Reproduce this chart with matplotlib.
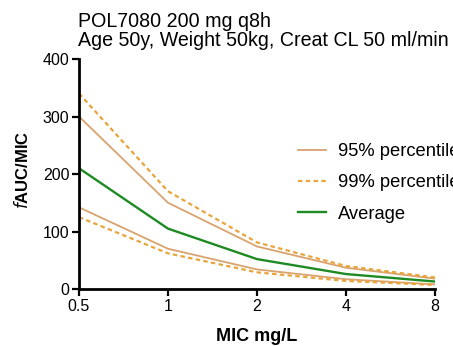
import matplotlib
matplotlib.use("Agg")
import matplotlib.pyplot as plt
from matplotlib.ticker import FixedLocator, FixedFormatter, NullLocator

plt.rcParams['font.family'] = ['Liberation Sans', 'DejaVu Sans']

mic = [0.5, 1, 2, 4, 8]
mic_labels = ["0.5", "1", "2", "4", "8"]
p95_upper = [300, 150, 74, 37, 18]
p95_lower = [142, 70, 34, 17, 8]
p99_upper = [340, 170, 81, 40, 20]
p99_lower = [125, 62, 29, 14, 7]
average = [210, 105, 52, 26, 13]

W, H = 453, 346
fig = plt.figure(figsize=(W / 100, H / 100), dpi=100)
ax = fig.add_axes([79 / W, 1 - 289 / H, (435 - 79) / W, (289 - 59) / H])

c95 = "#D9A36E"
c99 = "#E9A43C"
cavg = "#1E8A22"

ax.plot(mic, p95_upper, color=c95, lw=1.3, label="95% percentile")
ax.plot(mic, p95_lower, color=c95, lw=1.3)
ax.plot(mic, p99_upper, color=c99, lw=1.6, ls=(0, (2, 1.5)), label="99% percentile")
ax.plot(mic, p99_lower, color=c99, lw=1.6, ls=(0, (2, 1.5)))
ax.plot(mic, average, color=cavg, lw=1.7, label="Average")

ax.set_xscale("log", base=2)
ax.set_xlim(0.5, 8)
ax.set_ylim(0, 400)
ax.xaxis.set_major_locator(FixedLocator(mic))
ax.xaxis.set_major_formatter(FixedFormatter(mic_labels))
ax.xaxis.set_minor_locator(NullLocator())
ax.set_yticks([0, 100, 200, 300, 400])

for s in ["top", "right"]:
    ax.spines[s].set_visible(False)
for s in ["left", "bottom"]:
    ax.spines[s].set_linewidth(2.0)
ax.tick_params(axis="both", direction="out", width=1.6, length=5, labelsize=11.5,
               colors="black", pad=2)

fig.text(257 / W, 1 - 341 / H, "MIC mg/L", fontsize=13, fontweight="bold",
         ha="center", va="baseline")
fig.text(22 / W, 1 - 170 / H, r"$\mathbf{\mathit{f}}$AUC/MIC", fontsize=12,
         fontweight="bold", rotation=90, ha="center", va="center")

fig.text(78 / W, 1 - 27 / H, "POL7080 200 mg q8h", fontsize=14.1,
         ha="left", va="baseline")
fig.text(78 / W, 1 - 46 / H, "Age 50y, Weight 50kg, Creat CL 50 ml/min", fontsize=14.1,
         ha="left", va="baseline")

fig.legend(loc="upper left", bbox_to_anchor=(298 / W, 1 - 143 / H), frameon=False,
           fontsize=13.2, handlelength=1.5, handletextpad=0.7, labelspacing=0.78,
           borderpad=0, borderaxespad=0)

fig.savefig("out.png", dpi=100)
